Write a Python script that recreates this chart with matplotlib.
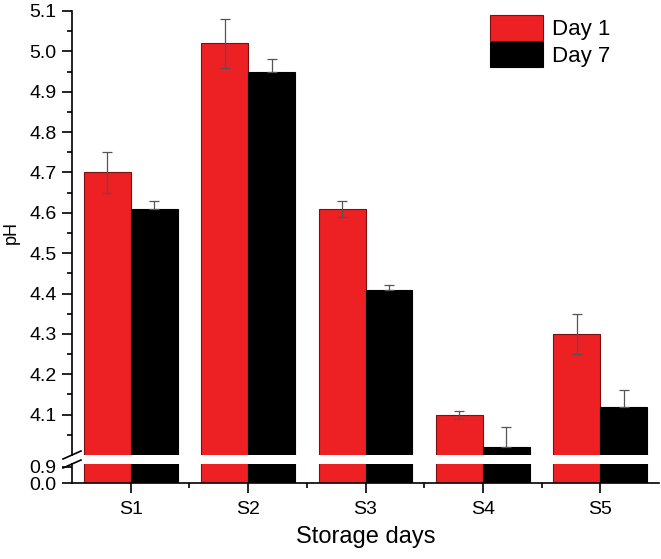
import matplotlib
matplotlib.use("Agg")
import matplotlib.pyplot as plt
import numpy as np

plt.rcParams['font.family'] = ['Liberation Sans', 'DejaVu Sans']

categories = ["S1", "S2", "S3", "S4", "S5"]
day1 = [4.70, 5.02, 4.61, 4.10, 4.30]
day1_err = [0.05, 0.06, 0.02, 0.01, 0.05]
day7 = [4.61, 4.95, 4.41, 4.02, 4.12]
day7_err = [0.02, 0.03, 0.01, 0.05, 0.04]

red = "#ED2024"
W, H = 661, 559
fig = plt.figure(figsize=(W / 100, H / 100), dpi=100)
left = 72 / W
width = (659 - 72) / W
ax_top = fig.add_axes([left, 1 - 455 / H, width, (455 - 11) / H])
ax_bot = fig.add_axes([left, 1 - 483 / H, width, (483 - 464) / H])

x = np.arange(1, len(categories) + 1)
bw = 0.4
for ax in (ax_top, ax_bot):
    ax.bar(x - bw / 2, day1, bw, color=red, edgecolor="#7a1010", linewidth=0.8, label="Day 1", zorder=2)
    ax.bar(x + bw / 2, day7, bw, color="black", edgecolor="black", linewidth=0.8, label="Day 7", zorder=2)
    ax.set_xlim(0.5, 5.5)
    for s in ("top", "right"):
        ax.spines[s].set_visible(False)
    ax.spines["left"].set_linewidth(1.2)
    ax.spines["bottom"].set_linewidth(1.2)

ax_top.errorbar(x - bw / 2, day1, yerr=day1_err, fmt="none", ecolor="#555555",
                elinewidth=0.9, capsize=3.5, capthick=0.9, zorder=3)
ax_top.errorbar(x + bw / 2, day7, yerr=[np.zeros(len(day7_err)), day7_err], fmt="none",
                ecolor="#555555", elinewidth=0.9, capsize=3.5, capthick=0.9, zorder=3)

tick_fs = 14
ax_top.set_ylim(4.0, 5.1)
ax_top.set_yticks(np.round(np.arange(4.1, 5.11, 0.1), 2))
ax_top.set_yticks(np.round(np.arange(4.05, 5.1, 0.1), 3), minor=True)
ax_top.spines["bottom"].set_visible(False)
ax_top.tick_params(axis="x", bottom=False, labelbottom=False, which="both")
ax_top.tick_params(axis="y", which="major", length=7, width=1.2, labelsize=tick_fs, pad=4)
ax_top.tick_params(axis="y", which="minor", length=3.5, width=1.2)
ax_top.set_ylabel("pH", fontsize=13, labelpad=7)

ax_bot.set_ylim(0, 1.05)
ax_bot.set_yticks([0.0, 0.9])
ax_bot.set_yticklabels(["0.0", "0.9"])
ax_bot.tick_params(axis="y", which="major", length=7, width=1.2, labelsize=tick_fs, pad=4)
ax_bot.set_xticks(x)
ax_bot.set_xticklabels(categories)
ax_bot.set_xticks(np.arange(1.5, 5.0, 1.0), minor=True)
ax_bot.tick_params(axis="x", which="major", length=7, width=1.2, labelsize=tick_fs, pad=6)
ax_bot.tick_params(axis="x", which="minor", length=3.5, width=1.2)
ax_bot.set_xlabel("Storage days", fontsize=17, labelpad=6)

# break marks
d = 9 / W
for ypix in (455, 464):
    yf = 1 - ypix / H
    fig.add_artist(plt.Line2D([left - d, left + d], [yf - 4 / H, yf + 4 / H],
                              color="black", linewidth=1.2, transform=fig.transFigure))

ax_top.legend(loc="upper left", bbox_to_anchor=(490 / W, 1 - 15 / H),
              bbox_transform=fig.transFigure, frameon=False, fontsize=16,
              handlelength=2.4, handleheight=1.4, handletextpad=0.4, labelspacing=0.05,
              borderaxespad=0, borderpad=0)

fig.savefig("out.png", dpi=100)
